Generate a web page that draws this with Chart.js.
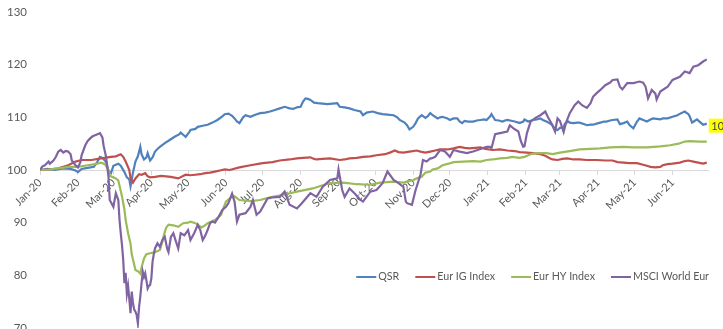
<!DOCTYPE html>
<html>
<head>
<meta charset="utf-8">
<title>QSR vs indices</title>
<script src="https://cdn.jsdelivr.net/npm/chart.js@4.4.1/dist/chart.umd.min.js"></script>
<style>
  html, body { margin: 0; padding: 0; background: #fff; overflow: hidden; }
  #wrap { position: relative; width: 723px; height: 345px; }
</style>
</head>
<body>
<div id="wrap"><canvas id="chart"></canvas></div>
<script>
// x values are days since 1 Jan 2020
const monthDays = [0, 31, 60, 91, 121, 152, 182, 213, 244, 274, 305, 335, 366, 397, 425, 456, 486, 517];
const monthLabels = ['Jan-20', 'Feb-20', 'Mar-20', 'Apr-20', 'May-20', 'Jun-20', 'Jul-20', 'Aug-20', 'Sep-20',
  'Oct-20', 'Nov-20', 'Dec-20', 'Jan-21', 'Feb-21', 'Mar-21', 'Apr-21', 'May-21', 'Jun-21'];
const yTicks = [70, 80, 90, 100, 110, 120, 130];

const qsrDays = [
  0, 6, 12, 19, 25, 29, 31, 34, 39, 44,
  47, 49, 51, 54, 56, 58, 60, 64, 66, 69,
  71, 73, 74, 76, 78, 80, 82, 83, 85, 87,
  88, 90, 92, 94, 96, 98, 102, 106, 110, 114,
  115, 118, 119, 122, 123, 127, 129, 133, 137, 141,
  145, 149, 151, 154, 157, 159, 161, 163, 166, 168,
  172, 176, 180, 184, 188, 192, 196, 200, 204, 207,
  210, 213, 215, 217, 219, 221, 224, 227, 231, 235,
  239, 243, 245, 249, 253, 257, 262, 264, 267, 272,
  276, 280, 284, 289, 292, 294, 298, 300, 302, 305,
  307, 309, 312, 315, 317, 319, 321, 325, 327, 329,
  333, 335, 338, 341, 343, 345, 347, 350, 354, 357,
  360, 363, 365, 368, 369, 372, 375, 378, 380, 382,
  386, 388, 391, 392, 395, 396, 399, 403, 406, 409,
  411, 414, 417, 419, 421, 423, 425, 428, 429, 432,
  433, 436, 439, 441, 445, 447, 450, 452, 455, 458,
  461, 463, 466, 468, 472, 474, 477, 480, 482, 485,
  488, 490, 494, 496, 499, 501, 504, 507, 509, 513,
  517, 521, 524, 527, 530, 531, 533, 535, 537, 539,
  542, 545
];
const qsrValues = [
  100.0, 100.2, 100.0, 100.3, 100.2, 99.9, 99.6, 100.2, 100.4, 100.6,
  101.6, 102.5, 102.3, 101.5, 99.8, 99.4, 100.8, 101.2, 100.8, 99.6,
  98.6, 98.2, 96.9, 99.5, 101.6, 102.6, 104.4, 103.0, 102.0, 102.4,
  103.2, 101.8, 102.4, 103.5, 104.0, 104.4, 105.1, 105.7, 106.3, 106.8,
  107.1, 106.5, 106.3, 107.2, 107.6, 107.8, 108.2, 108.4, 108.6, 109.0,
  109.5, 110.2, 110.6, 110.7, 110.3, 109.8, 109.2, 108.9, 110.0, 110.4,
  110.1, 110.5, 110.8, 110.9, 111.1, 111.4, 111.7, 112.0, 111.7, 111.6,
  111.9, 112.0, 113.0, 113.6, 113.5, 113.3, 112.8, 112.7, 112.6, 112.5,
  112.6, 112.7, 112.0, 111.9, 111.7, 111.4, 111.1, 110.4, 110.9, 111.1,
  110.8, 110.6, 110.5, 110.4, 110.0, 109.5, 109.0, 108.5, 107.7, 108.2,
  108.9, 109.8, 110.4, 109.9, 110.2, 110.8, 110.4, 109.8, 110.0, 110.1,
  109.8, 109.5, 109.8, 109.8, 109.2, 108.9, 109.3, 109.2, 109.2, 109.4,
  109.5, 109.6, 109.5, 110.2, 110.6, 109.5, 109.4, 109.2, 109.4, 109.5,
  109.3, 109.2, 109.0, 108.9, 109.2, 109.6, 109.2, 109.5, 109.6, 109.8,
  109.5, 109.2, 108.8, 108.5, 107.7, 107.6, 108.0, 108.1, 108.8, 109.2,
  109.0, 108.9, 109.0, 109.0, 108.7, 108.5, 108.6, 108.6, 108.8, 109.0,
  109.2, 109.2, 109.4, 109.5, 109.6, 108.7, 108.9, 109.2, 108.5, 107.9,
  109.2, 109.8, 109.4, 109.2, 109.6, 109.8, 109.7, 109.6, 109.8, 109.8,
  110.1, 110.4, 110.8, 111.1, 110.6, 110.2, 109.0, 109.3, 109.6, 109.2,
  108.6, 108.8
];

const igDays = [
  0, 7, 15, 23, 29, 34, 42, 50, 58, 62,
  64, 66, 68, 70, 73, 74, 76, 78, 81, 83,
  86, 88, 90, 94, 99, 103, 107, 113, 119, 123,
  127, 131, 135, 139, 143, 147, 151, 155, 163, 172,
  182, 190, 196, 204, 210, 215, 221, 224, 226, 231,
  237, 245, 249, 253, 259, 264, 270, 275, 282, 286,
  290, 293, 297, 302, 308, 311, 315, 319, 323, 327,
  333, 338, 343, 347, 351, 356, 360, 364, 370, 376,
  382, 388, 392, 398, 403, 409, 413, 417, 419, 423,
  427, 431, 436, 441, 447, 455, 462, 468, 472, 477,
  482, 488, 493, 496, 499, 503, 507, 509, 513, 517,
  523, 527, 530, 534, 538, 542, 545
];
const igValues = [
  100.0, 100.1, 100.3, 100.9, 101.6, 101.9, 101.9, 102.2, 102.5, 102.6,
  102.8, 103.0, 102.5, 101.6, 100.0, 98.4, 97.6, 98.4, 99.2, 99.1,
  99.4, 98.8, 98.6, 98.7, 98.9, 98.8, 98.7, 98.4, 99.1, 99.0,
  99.1, 99.2, 99.4, 99.5, 99.7, 99.9, 100.1, 100.0, 100.5, 100.9,
  101.3, 101.5, 101.8, 102.0, 102.2, 102.3, 102.4, 102.1, 102.0, 102.1,
  102.2, 101.9, 102.0, 102.2, 102.3, 102.5, 102.6, 102.8, 103.0, 103.3,
  103.7, 103.4, 103.3, 103.5, 103.7, 103.5, 103.3, 103.5, 103.7, 103.9,
  103.9, 104.1, 104.4, 104.2, 104.1, 104.2, 104.3, 104.0, 103.8, 103.9,
  103.7, 103.6, 103.4, 103.3, 103.2, 103.0, 102.7, 102.2, 102.0, 101.9,
  102.1, 102.2, 102.0, 102.0, 101.9, 101.9, 101.8, 101.8, 101.5, 101.4,
  101.3, 101.3, 101.0, 100.8, 100.6, 100.5, 100.6, 100.9, 101.1, 101.2,
  101.4, 101.7, 101.8, 101.6, 101.4, 101.2, 101.4
];

const hyDays = [
  0, 7, 15, 23, 31, 39, 45, 50, 53, 56,
  57, 60, 62, 64, 65, 67, 69, 70, 72, 74,
  75, 77, 78, 80, 82, 83, 85, 87, 90, 94,
  98, 100, 101, 103, 105, 109, 113, 117, 121, 123,
  127, 132, 135, 137, 143, 148, 150, 152, 156, 159,
  163, 168, 172, 180, 188, 199, 210, 223, 231, 237,
  248, 259, 270, 278, 289, 297, 305, 309, 312, 315,
  319, 321, 325, 329, 334, 338, 346, 354, 360, 365,
  370, 376, 382, 386, 392, 396, 401, 405, 414, 419,
  425, 433, 441, 450, 458, 466, 477, 485, 496, 507,
  515, 522, 527, 531, 539, 545
];
const hyValues = [
  100.0, 100.1, 100.3, 100.6, 100.6, 100.9, 101.1, 101.4, 101.1, 100.0,
  98.9, 98.6, 98.4, 98.0, 97.0, 95.0, 92.5, 90.5, 88.0, 86.0,
  84.0, 82.0, 81.0, 80.8, 80.3, 81.5, 83.2, 84.0, 84.2, 84.4,
  84.8, 86.4, 87.4, 89.0, 89.6, 89.5, 89.2, 89.9, 90.0, 90.2,
  89.9, 89.1, 89.5, 89.9, 90.5, 91.5, 92.8, 94.0, 94.8, 95.0,
  94.3, 94.2, 94.1, 94.3, 94.8, 95.3, 95.9, 96.5, 97.1, 97.5,
  97.6, 97.3, 97.2, 97.6, 97.8, 97.6, 98.1, 98.5, 98.7, 99.5,
  99.7, 100.1, 100.3, 100.9, 101.2, 101.5, 101.6, 101.7, 101.6, 101.9,
  102.0, 102.2, 102.3, 102.5, 102.3, 102.5, 103.0, 103.2, 103.2, 103.0,
  103.3, 103.6, 103.9, 104.0, 104.1, 104.3, 104.4, 104.3, 104.3, 104.5,
  104.7, 105.0, 105.4, 105.5, 105.4, 105.4
];

const msciDays = [
  0, 2, 4, 7, 8, 11, 13, 15, 17, 19,
  21, 23, 25, 26, 29, 31, 33, 34, 37, 39,
  41, 43, 45, 47, 49, 51, 52, 54, 56, 57,
  60, 62, 64, 65, 66, 67, 68, 69, 70, 71,
  72, 73, 74, 75, 76, 77, 78, 79, 80, 81,
  82, 83, 84, 85, 86, 87, 88, 89, 90, 91,
  92, 93, 94, 96, 98, 100, 102, 104, 105, 107,
  109, 111, 113, 115, 118, 121, 123, 126, 129, 131,
  133, 135, 137, 139, 141, 143, 146, 149, 152, 154,
  157, 159, 161, 163, 168, 172, 174, 177, 180, 186,
  190, 196, 200, 204, 210, 214, 221, 226, 231, 237,
  243, 244, 247, 249, 253, 257, 262, 264, 270, 275,
  280, 284, 289, 293, 297, 299, 300, 304, 307, 311,
  313, 316, 319, 320, 323, 327, 331, 335, 338, 343,
  349, 354, 360, 365, 368, 369, 372, 376, 382, 384,
  387, 391, 393, 395, 396, 398, 401, 405, 409, 413,
  415, 418, 421, 423, 425, 428, 430, 433, 437, 440,
  443, 447, 450, 452, 455, 458, 462, 466, 468, 472,
  474, 476, 480, 485, 490, 493, 495, 497, 500, 503,
  504, 507, 513, 517, 523, 527, 531, 534, 538, 542,
  545
];
const msciValues = [
  100.0, 100.7, 100.9, 101.6, 101.2, 101.8, 102.5, 103.5, 103.8, 103.3,
  103.6, 103.5, 103.0, 101.8, 100.9, 100.5, 101.5, 102.8, 104.7, 105.5,
  106.0, 106.4, 106.6, 106.8, 107.0, 106.2, 104.6, 102.5, 98.7, 94.3,
  93.0, 95.6, 94.3, 90.5, 88.0, 85.8, 83.0, 78.5, 80.5, 76.5,
  78.0, 75.5, 72.8, 76.9, 74.7, 73.5, 73.1, 72.5, 70.9, 74.0,
  76.0, 78.5, 80.7, 79.7, 80.4, 79.0, 77.5, 78.0, 78.2, 79.4,
  82.6, 84.0, 85.1, 86.1, 85.4, 86.7, 87.3, 85.0, 84.4, 87.3,
  88.0, 86.5, 85.1, 88.0, 87.6, 88.6, 86.7, 88.0, 89.6, 88.6,
  86.7, 87.5, 88.6, 89.9, 90.2, 90.0, 91.1, 92.4, 93.0, 93.7,
  95.5, 94.0, 90.2, 91.5, 91.8, 93.0, 94.3, 91.5, 92.1, 94.6,
  94.8, 94.9, 95.9, 93.4, 92.7, 93.7, 95.6, 94.9, 96.8, 98.1,
  98.4, 100.1, 96.2, 94.9, 96.5, 95.6, 94.3, 94.0, 95.9, 96.2,
  97.5, 99.7, 98.1, 97.5, 96.8, 94.0, 93.7, 93.4, 96.2, 99.1,
  101.9, 101.6, 102.2, 102.2, 102.5, 103.8, 103.5, 102.5, 103.8, 103.5,
  103.2, 103.5, 104.0, 104.4, 104.4, 104.1, 106.8, 107.0, 107.3, 108.5,
  107.9, 107.3, 105.5, 104.4, 104.5, 107.0, 109.2, 109.9, 110.4, 111.1,
  110.1, 108.9, 107.3, 109.8, 109.3, 107.2, 109.0, 110.8, 112.3, 113.0,
  112.3, 111.8, 112.7, 113.9, 114.6, 115.2, 116.1, 116.6, 117.1, 117.2,
  115.8, 115.3, 116.5, 116.5, 116.8, 116.6, 115.8, 113.6, 115.2, 114.5,
  113.4, 114.9, 115.8, 117.1, 117.7, 118.7, 118.4, 119.6, 119.9, 120.6,
  121.0
];

const FONT = 'Lato, "Liberation Sans", sans-serif';
const GREY = '#595959';

const toPoints = (days, vals) => days.map((d, i) => ({ x: d, y: vals[i] }));

// legend drawn inside the plot, bottom right, like the Excel original
const insideLegend = {
  id: 'insideLegend',
  afterDraw(chart) {
    const ctx = chart.ctx;
    const sets = chart.data.datasets;
    ctx.save();
    ctx.font = '10.7px ' + FONT;
    ctx.textBaseline = 'middle';
    // right align the whole legend to the end of the plot
    const total = sets.reduce((s, ds) => s + 22 + ctx.measureText(ds.label).width, 0) + 16 * (sets.length - 1);
    let x = chart.chartArea.right + 1 - total;
    const y = 277;
    sets.forEach(ds => {
      ctx.strokeStyle = ds.borderColor;
      ctx.lineWidth = 2;
      ctx.beginPath();
      ctx.moveTo(x, y);
      ctx.lineTo(x + 20, y);
      ctx.stroke();
      ctx.fillStyle = GREY;
      ctx.fillText(ds.label, x + 22, y);
      x += 22 + ctx.measureText(ds.label).width + 16;
    });
    ctx.restore();
  }
};

// yellow data label on the last QSR point
const lastLabel = {
  id: 'lastLabel',
  afterDatasetsDraw(chart) {
    const meta = chart.getDatasetMeta(0);
    const pt = meta.data[meta.data.length - 1];
    const txt = qsrValues[qsrValues.length - 1].toFixed(0);
    const ctx = chart.ctx;
    ctx.save();
    ctx.font = '11px ' + FONT;
    ctx.fillStyle = '#FFFF00';
    ctx.fillRect(pt.x + 2, pt.y - 5, ctx.measureText(txt).width + 8, 14);
    ctx.fillStyle = '#404040';
    ctx.textBaseline = 'middle';
    ctx.fillText(txt, pt.x + 4.5, pt.y + 2.5);
    ctx.restore();
  }
};

new Chart(document.getElementById('chart'), {
  type: 'line',
  data: {
    datasets: [
      { label: 'QSR', data: toPoints(qsrDays, qsrValues), borderColor: '#4F81BD', order: 4 },
      { label: 'Eur IG Index', data: toPoints(igDays, igValues), borderColor: '#C0504D', order: 3 },
      { label: 'Eur HY Index', data: toPoints(hyDays, hyValues), borderColor: '#9BBB59', order: 2 },
      { label: 'MSCI World Eur', data: toPoints(msciDays, msciValues), borderColor: '#8064A2', order: 1 }
    ]
  },
  options: {
    responsive: true,
    maintainAspectRatio: false,
    animation: false,
    events: [],
    datasets: {
      line: { borderWidth: 2.2, pointRadius: 0, tension: 0, fill: false }
    },
    layout: { padding: { top: 12, right: 15, bottom: 17, left: 0 } },
    plugins: {
      legend: { display: false },
      tooltip: { enabled: false }
    },
    scales: {
      x: {
        type: 'linear',
        position: { y: 100 },
        min: 0,
        max: 546,
        afterBuildTicks: (scale) => {
          scale.ticks = monthDays.map(v => ({ value: v }));
        },
        grid: { drawOnChartArea: false, drawTicks: true, tickLength: 4, color: '#D9D9D9' },
        border: { display: true, color: '#D9D9D9', width: 1 },
        ticks: {
          autoSkip: false,
          minRotation: 45,
          maxRotation: 45,
          padding: 2,
          color: GREY,
          font: { family: FONT, size: 11 },
          callback: (v) => monthLabels[monthDays.indexOf(v)]
        }
      },
      y: {
        min: 70,
        max: 130,
        afterBuildTicks: (scale) => {
          scale.ticks = yTicks.map(v => ({ value: v }));
        },
        afterFit: (scale) => {
          // keep the label gap from eating into the plot height
          scale.width = 40;
          scale.paddingTop = 0;
          scale.paddingBottom = 0;
        },
        grid: { display: false, drawTicks: false },
        border: { display: false },
        ticks: {
          padding: 13,
          color: GREY,
          font: { family: FONT, size: 11.5 }
        }
      }
    }
  },
  plugins: [insideLegend, lastLabel]
});
</script>
</body>
</html>
